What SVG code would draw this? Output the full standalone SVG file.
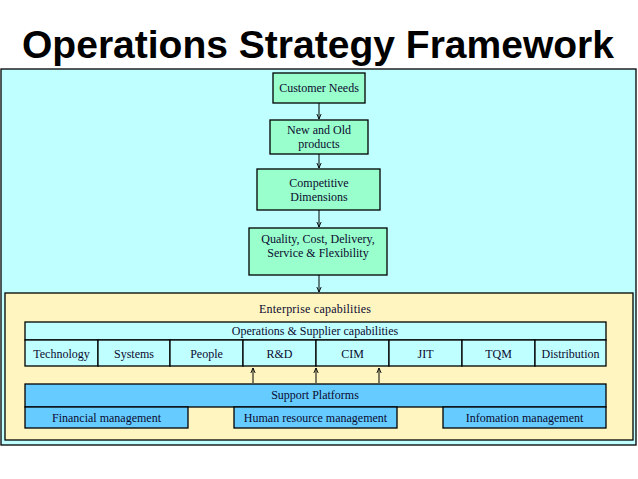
<svg xmlns="http://www.w3.org/2000/svg" width="638" height="479" viewBox="0 0 638 479">
<defs>
<style>
.t{font-family:"Liberation Serif","Times New Roman",serif;font-size:12px;fill:#0a0a30;text-anchor:middle}
.b{stroke:#000;stroke-width:1.3}
.g{fill:#99FFCC}
.c{fill:#C0FFFF}
.s{fill:#66CCFF}
.a{stroke:#000;stroke-width:1;fill:none;marker-end:url(#ah)}
</style>
<marker id="ah" viewBox="0 0 8 8" refX="7" refY="4" markerWidth="6" markerHeight="6" orient="auto"><path d="M0,1 L7,4 L0,7" fill="none" stroke="#000" stroke-width="1.2"/></marker>
</defs>
<rect width="638" height="479" fill="#fff"/>
<text x="318" y="58" font-family="Liberation Sans, Arial, sans-serif" font-weight="bold" font-size="39" text-anchor="middle" textLength="592" lengthAdjust="spacingAndGlyphs">Operations Strategy Framework</text>
<g id="frame"><rect x="1" y="69" width="635" height="376" class="c b"/></g>
<g id="enterprise"><rect x="5" y="293" width="628" height="147" fill="#FFF5C0" class="b"/><text x="315" y="313" class="t" textLength="112">Enterprise capabilities</text></g>
<g id="customer-needs"><rect x="273" y="73" width="92" height="30" class="g b"/><text x="319" y="92" class="t">Customer Needs</text></g>
<g id="products"><rect x="270" y="120" width="98" height="34" class="g b"/><text x="319" y="134" class="t">New and Old</text><text x="319" y="148" class="t">products</text></g>
<g id="competitive"><rect x="257" y="169" width="123" height="41" class="g b"/><text x="319" y="187" class="t">Competitive</text><text x="319" y="201" class="t">Dimensions</text></g>
<g id="quality"><rect x="249" y="228" width="138" height="47" class="g b"/><text x="318" y="243" class="t">Quality, Cost, Delivery,</text><text x="318" y="257" class="t">Service &amp; Flexibility</text></g>
<g id="ops"><rect x="25" y="322" width="581" height="18" class="c b"/><text x="315" y="335" class="t">Operations &amp; Supplier capabilities</text></g>
<g id="technology"><rect x="25" y="340" width="73" height="26" class="c b"/><text x="61.5" y="358" class="t">Technology</text></g>
<g id="systems"><rect x="98" y="340" width="72" height="26" class="c b"/><text x="134" y="358" class="t">Systems</text></g>
<g id="people"><rect x="170" y="340" width="73" height="26" class="c b"/><text x="206.5" y="358" class="t">People</text></g>
<g id="rd"><rect x="243" y="340" width="73" height="26" class="c b"/><text x="279.5" y="358" class="t">R&amp;D</text></g>
<g id="cim"><rect x="316" y="340" width="73" height="26" class="c b"/><text x="352.5" y="358" class="t">CIM</text></g>
<g id="jit"><rect x="389" y="340" width="73" height="26" class="c b"/><text x="425.5" y="358" class="t">JIT</text></g>
<g id="tqm"><rect x="462" y="340" width="73" height="26" class="c b"/><text x="498.5" y="358" class="t">TQM</text></g>
<g id="distribution"><rect x="535" y="340" width="71" height="26" class="c b"/><text x="570.5" y="358" class="t">Distribution</text></g>
<g id="support"><rect x="25" y="384" width="581" height="23" class="s b"/><text x="315" y="399" class="t">Support Platforms</text></g>
<g id="financial"><rect x="25" y="407" width="163" height="21" class="s b"/><text x="106.5" y="422" class="t">Financial management</text></g>
<g id="hr"><rect x="234" y="407" width="163" height="21" class="s b"/><text x="315.5" y="422" class="t">Human resource management</text></g>
<g id="info"><rect x="443" y="407" width="163" height="21" class="s b"/><text x="524.5" y="422" class="t">Infomation management</text></g>
<g id="connectors">
<line x1="319" y1="103" x2="319" y2="119" class="a"/>
<line x1="319" y1="154" x2="319" y2="168" class="a"/>
<line x1="319" y1="210" x2="319" y2="227" class="a"/>
<line x1="319" y1="275" x2="319" y2="292" class="a"/>
<line x1="253" y1="383" x2="253" y2="368" class="a"/>
<line x1="316" y1="383" x2="316" y2="368" class="a"/>
<line x1="379" y1="383" x2="379" y2="368" class="a"/>
</g>
</svg>
